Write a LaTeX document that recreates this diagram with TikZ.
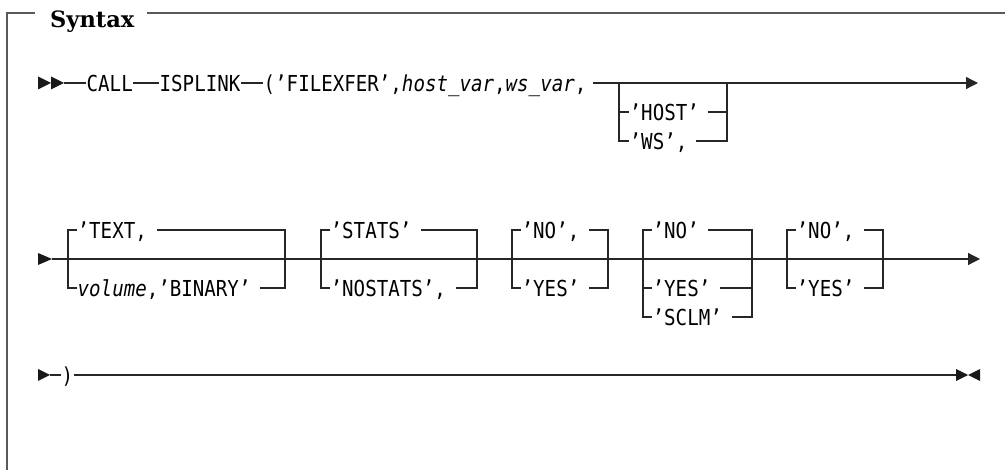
\documentclass[tikz,border=0pt]{standalone}
\usepackage{fontspec}
\newfontfamily\monofnt[FakeStretch=0.87]{DejaVu Sans Mono}
\newfontfamily\titlefnt{DejaVu Serif}
\usetikzlibrary{arrows.meta}
\begin{document}
\begin{tikzpicture}[x=1pt,y=-1pt,
  ln/.style={line width=1.25pt, draw=black!85},
  frm/.style={line width=1.1pt, draw=black!65},
  tx/.style={inner xsep=0.5pt, inner ysep=0pt, text height=18pt, text depth=0pt,
             anchor=west, font=\monofnt\fontsize{22}{26}\selectfont},
  tipfill/.style={fill=black!90, draw=none},
  arr/.style={ln, -{Triangle[length=12pt,width=12pt]}}
]
\useasboundingbox (0,0) rectangle (1005,470);

% frame and title
\node[anchor=base west, inner sep=0pt, font=\titlefnt\fontsize{22.5}{26}\selectfont\bfseries] (syn) at (50,28) {Syntax};
\coordinate (fTL) at (7,13);
\coordinate (fBL) at (7,470);
\coordinate (fTR) at (1005,13);
\draw[frm] ([xshift=-15pt]syn.west |- fTL) -- (fTL) -- (fBL);
\draw[frm] ([xshift=13pt]syn.east |- fTL) -- (fTR);

% ---------- row 1 ----------
\fill[tipfill] (38,76.5) -- (51,83) -- (38,89.5) -- cycle;
\fill[tipfill] (51,76.5) -- (64,83) -- (51,89.5) -- cycle;
\coordinate (s1) at (64,83);
\node[tx] (call) at (86,83) {CALL};
\node[tx] (isp) at (159,83) {ISPLINK};
\node[tx] (args) at (263,83) {(’FILEXFER’,{\itshape host\_var},{\itshape ws\_var},};
\draw[ln] (s1) -- (call);
\draw[ln] (call) -- (isp);
\draw[ln] (isp) -- (args);
\coordinate (hL) at (619,83);
\coordinate (hR) at (727,83);
\coordinate (e1) at (978,83);
\draw[arr] ([xshift=6pt]args.east) -- (e1);
\node[tx] (host) at (629,112) {’HOST’};
\node[tx] (ws) at (629,141) {’WS’,};
\draw[ln] (hL) |- (ws.west);
\draw[ln] (host.west -| hL) -- (host.west);
\draw[ln] ([xshift=8pt]host.east) -- (host.east -| hR);
\draw[ln] ([xshift=8pt]ws.east) -| (hR);

% ---------- row 2 ----------
\fill[tipfill] (38,253) -- (52,259) -- (38,265) -- cycle;
\coordinate (s2) at (52,259);
\coordinate (e2) at (980,259);
\draw[arr] (s2) -- (e2);

% box A
\coordinate (aL) at (68,259); \coordinate (aR) at (285,259);
\node[tx] (text) at (77,230) {’TEXT,};
\node[tx] (vol) at (77,288) {{\itshape volume},’BINARY’};
\draw[ln] (text.west) -| (aL) |- (vol.west);
\draw[ln] ([xshift=9pt]text.east) -| (aR) |- ([xshift=9pt]vol.east);

% box B
\coordinate (bL) at (321,259); \coordinate (bR) at (477,259);
\node[tx] (stats) at (330,230) {’STATS’};
\node[tx] (nostats) at (330,288) {’NOSTATS’,};
\draw[ln] (stats.west) -| (bL) |- (nostats.west);
\draw[ln] ([xshift=9pt]stats.east) -| (bR) |- ([xshift=9pt]nostats.east);

% box C
\coordinate (cL) at (512,259); \coordinate (cR) at (608,259);
\node[tx] (noa) at (521,230) {’NO’,};
\node[tx] (yesa) at (521,288) {’YES’};
\draw[ln] (noa.west) -| (cL) |- (yesa.west);
\draw[ln] ([xshift=9pt]noa.east) -| (cR) |- ([xshift=9pt]yesa.east);

% box D
\coordinate (dL) at (643,259); \coordinate (dR) at (752,259);
\node[tx] (nob) at (652,230) {’NO’};
\node[tx] (yesb) at (652,288) {’YES’};
\node[tx] (sclm) at (652,317) {’SCLM’};
\draw[ln] (nob.west) -| (dL) |- (sclm.west);
\draw[ln] (yesb.west -| dL) -- (yesb.west);
\draw[ln] ([xshift=9pt]nob.east) -| (dR) |- ([xshift=9pt]sclm.east);
\draw[ln] ([xshift=9pt]yesb.east) -- (yesb.east -| dR);

% box E
\coordinate (eL) at (787,259); \coordinate (eR) at (883,259);
\node[tx] (noc) at (796,230) {’NO’,};
\node[tx] (yesc) at (796,288) {’YES’};
\draw[ln] (noc.west) -| (eL) |- (yesc.west);
\draw[ln] ([xshift=9pt]noc.east) -| (eR) |- ([xshift=9pt]yesc.east);

% ---------- row 3 ----------
\fill[tipfill] (38,369) -- (50,375) -- (38,381) -- cycle;
\coordinate (s3) at (50,375);
\node[tx] (close) at (61,375) {)};
\coordinate (e3) at (956,375);
\draw[ln] (s3) -- (close);
\draw[ln] (close) -- (e3);
\fill[tipfill] (956,369) -- (968,375) -- (956,381) -- cycle;
\fill[tipfill] (980,369) -- (968,375) -- (980,381) -- cycle;
\end{tikzpicture}
\end{document}
